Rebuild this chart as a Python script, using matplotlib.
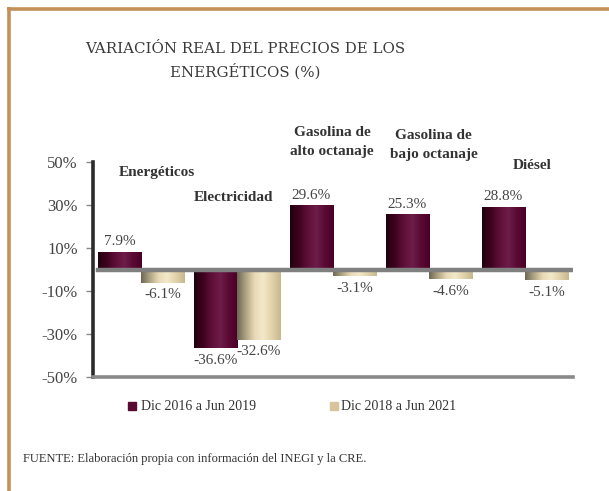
import numpy as np
import matplotlib.pyplot as plt
from matplotlib.colors import LinearSegmentedColormap
from matplotlib.lines import Line2D
from matplotlib.patches import Rectangle

categories = ['Energéticos', 'Electricidad', 'Gasolina de\nalto octanaje',
              'Gasolina de\nbajo octanaje', 'Diésel']
serie_2019 = [7.9, -36.6, 29.6, 25.3, 28.8]
serie_2021 = [-6.1, -32.6, -3.1, -4.6, -5.1]
series_names = ['Dic 2016 a Jun 2019', 'Dic 2018 a Jun 2021']
yticks = [-50, -30, -10, 10, 30, 50]

# where the category names sit (data units)
cat_x = [0.17, 0.96, 1.99, 3.05, 4.08]
cat_y = [45, 33.7, 59.5, 58, 48.6]

plt.rcParams['font.family'] = ['Liberation Serif', 'DejaVu Serif']

dark_cmap = LinearSegmentedColormap.from_list(
    'dark', ['#22000e', '#3e0320', '#5e0f38', '#6e1c4a', '#5a0a32', '#4a0028'])
light_cmap = LinearSegmentedColormap.from_list(
    'light', ['#6e6854', '#b0a484', '#e8dab6', '#f3e8ca', '#e2d2aa', '#c8b890'])

fig = plt.figure(figsize=(6.09, 4.91), dpi=100)
ax = fig.add_axes([93/609, 114/491, 480/609, 215/491])

x = np.arange(len(categories))
w = 0.45
bars1 = ax.bar(x - w/2, serie_2019, w, color='none', edgecolor='none')
bars2 = ax.bar(x + w/2, serie_2021, w, color='none', edgecolor='none')

# cylinder-like shading on every bar
grad = np.linspace(0, 1, 64).reshape(1, -1)
for bars, cmap in [(bars1, dark_cmap), (bars2, light_cmap)]:
    for b in bars:
        x0, y0 = b.get_x(), b.get_y()
        bw, bh = b.get_width(), b.get_height()
        ax.imshow(grad, cmap=cmap, aspect='auto', zorder=2,
                  extent=[x0, x0 + bw, min(y0, y0 + bh), max(y0, y0 + bh)])

ax.axhline(0, xmin=0.01, color='#808080', lw=3.2, zorder=3)

ax.set_xlim(-0.5, len(categories) - 0.5)
ax.set_ylim(-50, 50)
ax.set_yticks(yticks)
ax.set_yticklabels([f'{t}%' for t in yticks], fontsize=12, color='#444444')
ax.set_xticks([])
ax.tick_params(axis='y', length=5, width=1, color='#888888', pad=6)

for s in ['top', 'right']:
    ax.spines[s].set_visible(False)
ax.spines['left'].set_color('#2b2b2b')
ax.spines['left'].set_linewidth(2.6)
ax.spines['bottom'].set_color('#8a8a8a')
ax.spines['bottom'].set_linewidth(2.6)

for bars, vals in [(bars1, serie_2019), (bars2, serie_2021)]:
    for b, v in zip(bars, vals):
        cx = b.get_x() + b.get_width() / 2
        if v >= 0:
            ax.text(cx, v + 2, f'{v}%', ha='center', va='bottom',
                    fontsize=11, color='#444444')
        else:
            ax.text(cx, v - 2.5, f'{v}%', ha='center', va='top',
                    fontsize=11, color='#444444')

for cx, cy, name in zip(cat_x, cat_y, categories):
    ax.text(cx, cy, name, ha='center', va='center', fontsize=11,
            fontweight='bold', color='#333333', clip_on=False, linespacing=1.6)

fig.text(245/609, 1 - 61/491, 'VARIACIÓN REAL DEL PRECIOS DE LOS\nENERGÉTICOS (%)',
         ha='center', va='center', fontsize=10.8, color='#3a3a3a',
         linespacing=1.5, family='DejaVu Serif')

# legend
fig.patches.append(Rectangle((128/609, 1 - 410/491), 8/609, 8/491,
                             transform=fig.transFigure, color='#5a0a32'))
fig.text(141/609, 1 - 406/491, series_names[0], ha='left', va='center',
         fontsize=10, color='#333333')
fig.patches.append(Rectangle((330/609, 1 - 410/491), 8/609, 8/491,
                             transform=fig.transFigure, color='#d8c49a'))
fig.text(341/609, 1 - 406/491, series_names[1], ha='left', va='center',
         fontsize=10, color='#333333')

fig.text(23/609, 1 - 459/491,
         'FUENTE: Elaboración propia con información del INEGI y la CRE.',
         ha='left', va='center', fontsize=9, color='#333333')

# frame border
fig.add_artist(Line2D([7/609, 1], [1 - 8.5/491] * 2, transform=fig.transFigure,
                      color='#c39157', lw=2.6, solid_capstyle='butt'))
fig.add_artist(Line2D([8.5/609] * 2, [0, 1 - 7/491], transform=fig.transFigure,
                      color='#c39157', lw=2.6, solid_capstyle='butt'))

fig.savefig('out.png', dpi=100)
